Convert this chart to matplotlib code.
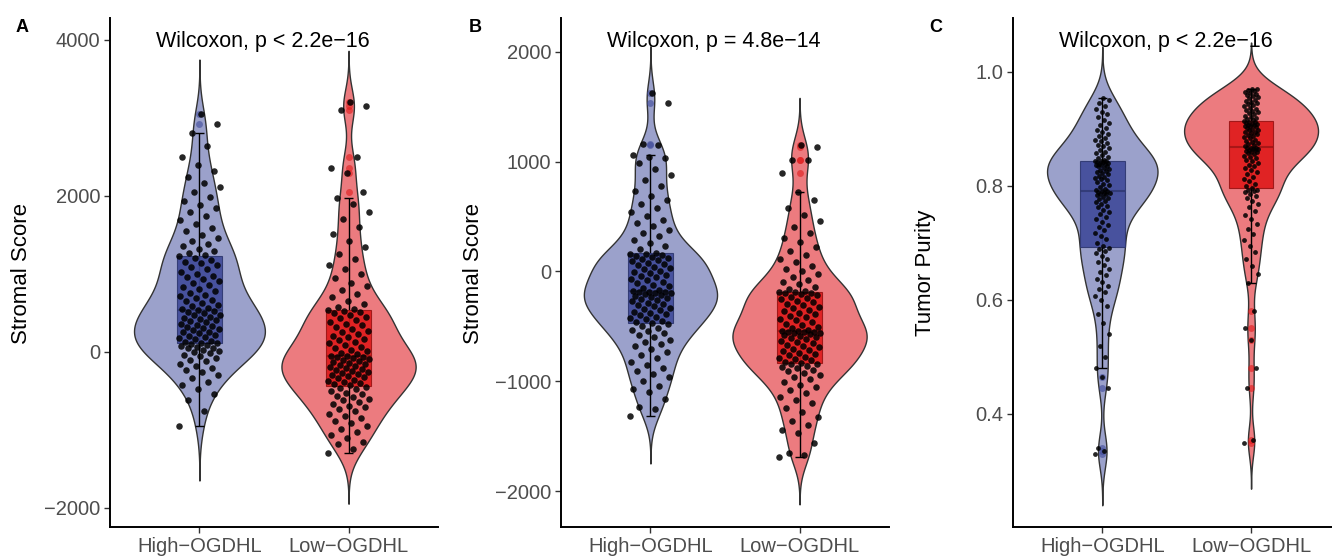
import numpy as np
import matplotlib.pyplot as plt
from matplotlib.transforms import blended_transform_factory

plt.rcParams['font.family'] = ['Liberation Sans', 'DejaVu Sans']

groups = ["High−OGDHL", "Low−OGDHL"]

# Panel A: stromal score
a_high = [-949, -760, -610, -540, -470, -420, -380, -330, -290, -260,
          -230, -200, -175, -150, -120, -100, -80, -55, -35, -15,
          0, 15, 30, 45, 55, 68, 80, 92, 103, 112,
          118, 130, 142, 160, 175, 190, 205, 220, 238, 250,
          262, 280, 295, 305, 320, 335, 350, 362, 378, 392,
          405, 420, 438, 452, 468, 480, 495, 510, 522, 535,
          545, 565, 585, 600, 625, 648, 670, 690, 712, 735,
          760, 782, 805, 830, 855, 880, 905, 930, 955, 980,
          1005, 1030, 1060, 1085, 1110, 1135, 1160, 1185, 1210, 1228,
          1240, 1265, 1290, 1320, 1355, 1390, 1425, 1460, 1500, 1545,
          1590, 1640, 1690, 1740, 1790, 1840, 1890, 1940, 1990, 2050,
          2110, 2170, 2240, 2320, 2400, 2500, 2640, 2808, 2920, 3050]
a_low = [-1295, -1250, -1180, -1150, -1100, -1060, -1020, -985, -950, -915,
         -880, -850, -820, -790, -760, -735, -710, -690, -665, -640,
         -620, -600, -580, -560, -540, -520, -500, -480, -462, -445,
         -428, -415, -400, -385, -370, -355, -340, -325, -310, -298,
         -285, -272, -260, -245, -232, -220, -205, -192, -180, -165,
         -152, -140, -125, -112, -100, -88, -76, -66, -60, -55,
         -47, -30, -10, 10, 30, 50, 70, 90, 110, 130,
         150, 170, 190, 210, 230, 250, 272, 295, 318, 340,
         362, 385, 408, 430, 452, 475, 495, 512, 525, 535,
         545, 580, 620, 660, 700, 745, 790, 840, 890, 945,
         1000, 1060, 1120, 1190, 1260, 1340, 1420, 1510, 1600, 1700,
         1800, 1900, 1974, 2050, 2300, 2360, 2500, 3100, 3150, 3210]

# Panel B: stromal score
b_high = [-1318, -1250, -1230, -1160, -1100, -1070, -1040, -1000, -960, -930,
          -910, -880, -850, -820, -790, -760, -730, -705, -680, -660,
          -640, -620, -600, -580, -560, -545, -530, -510, -495, -480,
          -470, -460, -448, -436, -424, -412, -400, -390, -378, -366,
          -354, -342, -330, -318, -306, -295, -284, -272, -262, -252,
          -242, -232, -222, -214, -206, -200, -195, -190, -186, -184,
          -180, -165, -150, -135, -120, -105, -92, -80, -66, -52,
          -40, -28, -16, -4, 8, 20, 32, 44, 56, 68,
          80, 92, 104, 116, 126, 136, 145, 152, 158, 162,
          170, 200, 230, 260, 290, 320, 350, 380, 410, 440,
          470, 505, 540, 575, 610, 650, 690, 730, 780, 830,
          880, 930, 990, 1030, 1045, 1055, 1150, 1160, 1530, 1620]
b_low = [-1690, -1670, -1650, -1560, -1470, -1440, -1400, -1360, -1320, -1280,
         -1240, -1200, -1170, -1140, -1110, -1080, -1055, -1030, -1005, -980,
         -960, -940, -925, -910, -895, -880, -868, -856, -846, -840,
         -835, -822, -810, -798, -786, -774, -762, -750, -738, -726,
         -714, -702, -690, -678, -666, -654, -642, -630, -618, -606,
         -596, -586, -578, -570, -563, -557, -552, -549, -547, -546,
         -544, -530, -516, -502, -488, -474, -460, -446, -432, -418,
         -404, -390, -376, -362, -348, -334, -320, -306, -292, -278,
         -265, -252, -240, -228, -217, -207, -199, -192, -187, -184,
         -180, -160, -140, -118, -96, -74, -50, -26, 0, 26,
         54, 84, 116, 150, 186, 224, 264, 306, 350, 400,
         455, 515, 580, 650, 720, 900, 1010, 1010, 1130, 1150]

# Panel C: tumor purity
c_high = [0.330, 0.335, 0.340, 0.445, 0.465, 0.480, 0.500, 0.520, 0.540, 0.560,
          0.575, 0.590, 0.600, 0.607, 0.613, 0.619, 0.625, 0.631, 0.637, 0.643,
          0.649, 0.655, 0.661, 0.667, 0.672, 0.677, 0.682, 0.686, 0.689, 0.691,
          0.694, 0.700, 0.706, 0.712, 0.717, 0.722, 0.727, 0.732, 0.737, 0.742,
          0.746, 0.750, 0.754, 0.758, 0.762, 0.765, 0.768, 0.771, 0.774, 0.777,
          0.779, 0.781, 0.783, 0.785, 0.786, 0.787, 0.788, 0.789, 0.790, 0.790,
          0.792, 0.795, 0.798, 0.801, 0.804, 0.807, 0.810, 0.812, 0.814, 0.816,
          0.818, 0.820, 0.822, 0.824, 0.826, 0.828, 0.830, 0.832, 0.834, 0.835,
          0.836, 0.837, 0.838, 0.839, 0.840, 0.841, 0.842, 0.843, 0.843, 0.844,
          0.845, 0.848, 0.851, 0.854, 0.857, 0.860, 0.863, 0.866, 0.869, 0.872,
          0.875, 0.878, 0.881, 0.884, 0.887, 0.890, 0.894, 0.898, 0.902, 0.906,
          0.910, 0.915, 0.920, 0.925, 0.930, 0.935, 0.940, 0.945, 0.950, 0.954]
c_low = [0.350, 0.355, 0.445, 0.480, 0.530, 0.550, 0.580, 0.630, 0.645, 0.660,
         0.672, 0.684, 0.695, 0.705, 0.715, 0.724, 0.733, 0.741, 0.749, 0.756,
         0.762, 0.768, 0.773, 0.778, 0.782, 0.786, 0.789, 0.791, 0.792, 0.793,
         0.796, 0.800, 0.804, 0.808, 0.812, 0.816, 0.820, 0.824, 0.828, 0.831,
         0.834, 0.837, 0.840, 0.843, 0.846, 0.849, 0.851, 0.853, 0.855, 0.857,
         0.859, 0.860, 0.861, 0.862, 0.863, 0.864, 0.865, 0.866, 0.867, 0.867,
         0.869, 0.871, 0.873, 0.875, 0.877, 0.879, 0.881, 0.883, 0.885, 0.887,
         0.889, 0.891, 0.893, 0.894, 0.895, 0.897, 0.898, 0.900, 0.901, 0.903,
         0.904, 0.905, 0.906, 0.907, 0.908, 0.909, 0.910, 0.911, 0.912, 0.913,
         0.915, 0.917, 0.919, 0.921, 0.923, 0.925, 0.927, 0.929, 0.931, 0.933,
         0.935, 0.937, 0.939, 0.941, 0.943, 0.945, 0.947, 0.949, 0.951, 0.953,
         0.955, 0.957, 0.959, 0.961, 0.963, 0.965, 0.967, 0.968, 0.969, 0.970]

p_labels = ["Wilcoxon, p < 2.2e−16", "Wilcoxon, p = 4.8e−14", "Wilcoxon, p < 2.2e−16"]
y_titles = ["Stromal Score", "Stromal Score", "Tumor Purity"]
letters = ["A", "B", "C"]

violin_cols = ["#9ba1cb", "#ec7b7f"]
box_cols = ["#3f4a9a", "#df1a1a"]
box_edge = ["#2e3770", "#9a1414"]

W, H = 1332, 556


def kde(vals, bw):
    v = np.asarray(vals, float)
    grid = np.linspace(v.min() - 3 * bw, v.max() + 3 * bw, 600)
    d = np.exp(-0.5 * ((grid[:, None] - v[None, :]) / bw) ** 2).sum(1)
    return grid, d / (len(v) * bw * np.sqrt(2 * np.pi))


def draw_panel(ax, data, bws, jitter, psize, ptext, textx):
    curves = [kde(d, bw) for d, bw in zip(data, bws)]
    dmax = max(c[1].max() for c in curves)
    for i, (grid, dens) in enumerate(curves):
        pos = i + 1
        half = 0.45 * dens / dmax
        ax.fill_betweenx(grid, pos - half, pos + half, facecolor=violin_cols[i],
                         edgecolor="#333333", linewidth=1.0, zorder=1)

    bp = ax.boxplot(data, positions=[1, 2], widths=0.3, patch_artist=True,
                    whis=1.5, showcaps=False, zorder=3)
    for i in range(2):
        pos = i + 1
        lo = bp['whiskers'][2 * i].get_ydata()[1]
        hi = bp['whiskers'][2 * i + 1].get_ydata()[1]
        ax.vlines(pos, lo, hi, color="black", linewidth=1.0, zorder=2)
        ax.hlines([lo, hi], pos - 0.03, pos + 0.03, color="black", linewidth=1.0, zorder=2)
        bp['boxes'][i].set(facecolor=box_cols[i], edgecolor=box_edge[i],
                           linewidth=0.8, alpha=0.9)
        bp['medians'][i].set(color=box_edge[i], linewidth=1.5, alpha=0.8)
        bp['fliers'][i].set(marker='o', markerfacecolor=box_cols[i],
                            markeredgecolor='none', markersize=5, alpha=0.6)
    for w in bp['whiskers']:
        w.set_visible(False)

    for i, vals in enumerate(data):
        n = len(vals)
        offs = ((np.arange(n) * 0.6180339887) % 1.0 * 2 - 1) * jitter
        ax.scatter(i + 1 + offs, vals, s=psize, color="black", alpha=0.85,
                   linewidths=0, zorder=4)

    trans = blended_transform_factory(ax.transData, ax.transAxes)
    ax.text(textx, 0.953, ptext, transform=trans, ha="left", va="center",
            fontsize=15.5, color="black", zorder=5)

    for s in ["top", "right"]:
        ax.spines[s].set_visible(False)
    for s in ["left", "bottom"]:
        ax.spines[s].set_linewidth(1.4)
    ax.set_xticks([1, 2])
    ax.set_xticklabels(groups)
    ax.tick_params(axis="both", labelsize=14.5, labelcolor="#4d4d4d",
                   length=4, width=1.0, color="#333333", pad=3)


fig = plt.figure(figsize=(W / 100, H / 100), dpi=100)

layout = [(110, 328), (561, 328), (1013, 319)]
ylims = [(-2244, 4282), (-2325, 2306), (0.2019, 1.0941)]
yticks = [[-2000, 0, 2000, 4000], [-2000, -1000, 0, 1000, 2000], [0.4, 0.6, 0.8, 1.0]]
xlims = [(0.4, 2.6), (0.4, 2.6), (0.4, 2.544)]
all_data = [[a_high, a_low], [b_high, b_low], [c_high, c_low]]
bandwidths = [[233, 217], [143, 143], [0.03, 0.027]]
jitters = [0.14, 0.14, 0.05]
psizes = [22, 22, 12]
letter_x = [22, 475, 936]
title_x = [22, 474, 925]

for k in range(3):
    left, width = layout[k]
    ax = fig.add_axes([left / W, 29 / H, width / W, 509 / H])
    draw_panel(ax, all_data[k], bandwidths[k], jitters[k], psizes[k], p_labels[k], 0.71)
    ax.set_xlim(*xlims[k])
    ax.set_ylim(*ylims[k])
    ax.set_yticks(yticks[k])
    if k == 2:
        ax.set_yticklabels(["0.4", "0.6", "0.8", "1.0"])
    fig.text(letter_x[k] / W, 1 - 27 / H, letters[k], fontsize=13, fontweight="bold",
             ha="center", va="center")
    fig.text(title_x[k] / W, 1 - 273 / H, y_titles[k], fontsize=16, rotation=90,
             ha="center", va="center")

fig.savefig("out.png", dpi=100)
